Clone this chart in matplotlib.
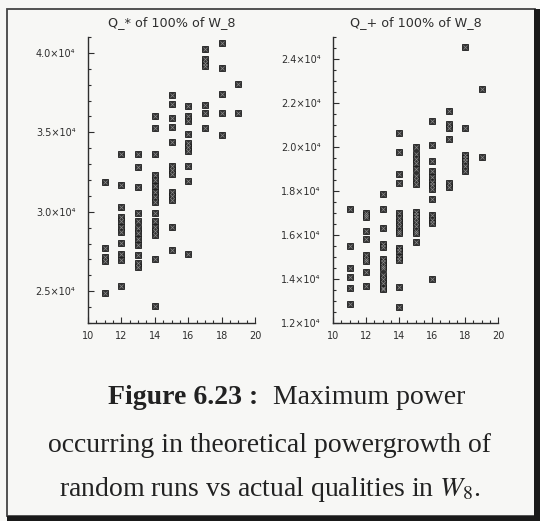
import matplotlib
matplotlib.use("Agg")
import matplotlib.pyplot as plt
from matplotlib.ticker import MultipleLocator, FuncFormatter
from matplotlib.patches import Rectangle

plt.rcParams['mathtext.fontset'] = 'stix'

# actual quality in W_8 (x) and the max power of the random runs (y)
qualities = [11, 12, 13, 14, 15, 16, 17, 18, 19]

qstar_cols = [
	[31900, 27700, 27150, 26900, 24900],
	[33650, 31700, 30300, 29700, 29400, 29050, 28750, 28050, 27350, 26950, 25350],
	[33650, 32800, 31550, 29900, 29400, 28950, 28650, 28300, 27900, 27250, 26750, 26550],
	[36050, 35300, 33650, 32300, 32000, 31650, 31250, 30950, 30600, 29950, 29450, 29050, 28800, 28550, 27000, 24100],
	[37350, 36800, 35900, 35350, 34400, 32900, 32650, 32400, 31250, 31000, 30750, 29050, 27600],
	[36650, 36000, 35700, 34900, 34300, 34050, 33850, 32900, 31950, 27350],
	[40250, 39600, 39350, 39200, 36750, 36200, 35250],
	[40650, 39050, 37400, 36200, 34850],
	[38050, 36200],
]

qplus_cols = [
	[17200, 15500, 14500, 14100, 13600, 12850],
	[17000, 16900, 16800, 16200, 15800, 15100, 14900, 14800, 14300, 13700],
	[17850, 17200, 16300, 15600, 15450, 14900, 14750, 14600, 14500, 14200, 14000, 13800, 13600, 13550],
	[20650, 19750, 18750, 18350, 17000, 16750, 16600, 16400, 16200, 16100, 15400, 15250, 15000, 14850, 13650, 12750],
	[20000, 19700, 19450, 19250, 19000, 18700, 18500, 18300, 17050, 16900, 16750, 16600, 16400, 16200, 16100, 15700],
	[21200, 20100, 19350, 18900, 18650, 18400, 18250, 18100, 17650, 16900, 16700, 16550, 14000],
	[21650, 21050, 20850, 20350, 18350, 18200],
	[24550, 20850, 19650, 19500, 19350, 19150, 18900],
	[22650, 19550],
]

titles = ["Q_* of 100% of W_8", "Q_+ of 100% of W_8"]

W, H = 540, 521
bg = "#f7f7f5"
ink = "#2e2e2e"

fig = plt.figure(figsize=(W/100, H/100), dpi=100, facecolor=bg)

def sci(v, pos):
	return "%.1f\u00d710\u2074" % (v/1e4)

def panel(rect, cols, title, ylim, major, minor):
	ax = fig.add_axes(rect)
	ax.set_facecolor(bg)
	xs, ys = [], []
	for q, col in zip(qualities, cols):
		xs += [q]*len(col)
		ys += col
	ax.plot(xs, ys, ls="none", marker="s", ms=4.8, mfc="#333333", mec="#1e1e1e", mew=0.6)
	ax.plot(xs, ys, ls="none", marker="x", ms=3.0, mec="#8a8a8a", mew=0.5)
	ax.set_xlim(10, 20)
	ax.set_ylim(*ylim)
	ax.xaxis.set_major_locator(MultipleLocator(2))
	ax.xaxis.set_minor_locator(MultipleLocator(0.5))
	ax.yaxis.set_major_locator(MultipleLocator(major))
	ax.yaxis.set_minor_locator(MultipleLocator(minor))
	ax.yaxis.set_major_formatter(FuncFormatter(sci))
	for s in ["top", "right"]:
		ax.spines[s].set_visible(False)
	for s in ["left", "bottom"]:
		ax.spines[s].set_color(ink)
		ax.spines[s].set_linewidth(1.0)
	ax.tick_params(which="both", direction="in", colors=ink, labelsize=7, width=0.8)
	ax.tick_params(which="major", length=4)
	ax.tick_params(which="minor", length=2)
	ax.tick_params(axis="y", pad=9)
	ax.tick_params(axis="x", pad=6)
	ax.set_title(title, fontsize=9.2, color=ink, pad=8)
	return ax

panel([88/W, 1-323/H, 167/W, 286/H], qstar_cols, titles[0], (23000, 41000), 5000, 1000)
panel([333/W, 1-323/H, 165/W, 286/H], qplus_cols, titles[1], (12000, 25000), 2000, 500)

# caption
cap = "#222222"
fig.text(258/W, 1-397/H, "Figure 6.23 :", ha="right", va="center", fontsize=20,
	fontweight="bold", family="Liberation Serif", color=cap)
fig.text(273/W, 1-397/H, "Maximum power", ha="left", va="center", fontsize=20,
	family="Liberation Serif", color=cap)
fig.text(0.5, 1-445/H, "occurring in theoretical powergrowth of", ha="center", va="center",
	fontsize=20, family="Liberation Serif", color=cap)
fig.text(0.5, 1-490/H, "random runs vs actual qualities in $W_8$.", ha="center", va="center",
	fontsize=20, family="Liberation Serif", color=cap)

# page frame with heavy right/bottom edge
fig.add_artist(Rectangle((7/W, 1-516/H), 528/W, 507/H, transform=fig.transFigure,
	fill=False, ec="#444444", lw=1.3))
fig.add_artist(Rectangle((534/W, 0), 6/W, 1-9/H, transform=fig.transFigure, fc="#1a1a1a", ec="none"))
fig.add_artist(Rectangle((7/W, 0), 533/W, 5/H, transform=fig.transFigure, fc="#1a1a1a", ec="none"))

fig.savefig("out.png", dpi=100, facecolor=bg)
